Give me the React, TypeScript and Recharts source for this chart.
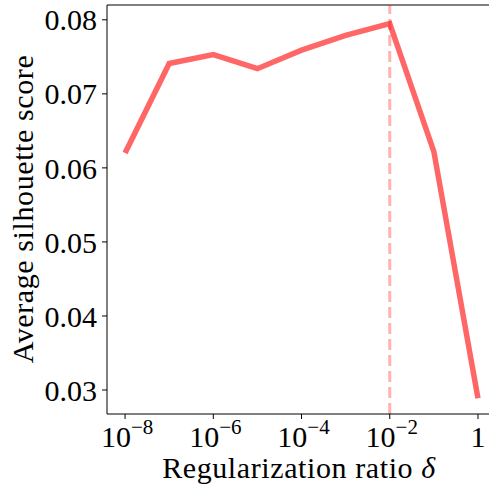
import { LineChart, Line, XAxis, YAxis, ReferenceLine } from "recharts";

// x values are log10 of the regularization ratio
const exponents = [-8, -7, -6, -5, -4, -3, -2, -1, 0];
const silhouette = [0.062, 0.0741, 0.0753, 0.0734, 0.0759, 0.0779, 0.0795, 0.0622, 0.0289];
const xTicks = [-8, -6, -4, -2, 0];
const yTicks = [0.03, 0.04, 0.05, 0.06, 0.07, 0.08];
const chosenExponent = -2;

const data = exponents.map((e, i) => ({ e, score: silhouette[i] }));

const FONT = "'Liberation Serif', 'DejaVu Serif', serif";

function XTick(props: any) {
  const { x, y, payload } = props;
  const v = payload.value;
  if (v === 0) {
    return (
      <text x={x} y={y + 26} textAnchor="middle" fontFamily={FONT} fontSize={30} fill="#000">
        1
      </text>
    );
  }
  return (
    <text x={x + 2} y={y + 26} textAnchor="middle" fontFamily={FONT} fontSize={30} fill="#000">
      <tspan>10</tspan>
      <tspan dy={-13} fontSize={21}>{"\u2212" + Math.abs(v)}</tspan>
    </text>
  );
}

function XLabel(props: any) {
  const vb = props.viewBox;
  return (
    <text
      x={299}
      y={vb.y + vb.height - 6}
      textAnchor="middle"
      fontFamily={FONT}
      fontSize={30}
      letterSpacing={0.6}
      fill="#000"
    >
      <tspan>Regularization ratio </tspan>
      <tspan fontStyle="italic">δ</tspan>
    </text>
  );
}

function YLabel() {
  return (
    <text
      x={33}
      y={209}
      transform="rotate(-90 33 209)"
      textAnchor="middle"
      fontFamily={FONT}
      fontSize={30}
      letterSpacing={0.6}
      fill="#000"
    >
      Average silhouette score
    </text>
  );
}

export default function App() {
  return (
    <div style={{ position: "absolute", left: 0, top: 0, width: 489, height: 484, background: "#fff" }}>
      <LineChart width={489} height={484} data={data} margin={{ top: 5, right: 0, bottom: 0, left: 0 }}>
        <XAxis
          dataKey="e"
          type="number"
          domain={[-8.41, 0.25]}
          ticks={xTicks}
          allowDataOverflow
          height={70}
          tickSize={5}
          tickMargin={2}
          stroke="#000"
          tick={<XTick />}
          label={<XLabel />}
        />
        <YAxis
          type="number"
          domain={[0.02676, 0.082]}
          ticks={yTicks}
          allowDataOverflow
          width={107}
          tickSize={5}
          tickMargin={5}
          stroke="#000"
          tickFormatter={(v: number) => v.toFixed(2)}
          tick={{ fill: "#000", fontFamily: FONT, fontSize: 30 }}
          label={<YLabel />}
        />
        <ReferenceLine y={0.082} stroke="#000" strokeWidth={1} />
        <ReferenceLine
          x={chosenExponent}
          stroke="red"
          strokeOpacity={0.3}
          strokeWidth={3}
          strokeDasharray="11 5"
        />
        <Line
          dataKey="score"
          stroke="red"
          strokeOpacity={0.6}
          strokeWidth={5.5}
          dot={false}
          isAnimationActive={false}
        />
      </LineChart>
    </div>
  );
}
